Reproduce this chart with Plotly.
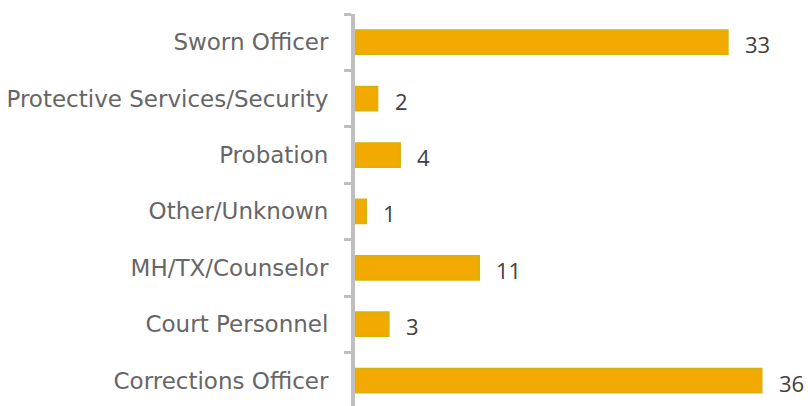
import plotly.graph_objects as go

# listed bottom to top, as the chart draws them
roles = [
    "Corrections Officer",
    "Court Personnel",
    "MH/TX/Counselor",
    "Other/Unknown",
    "Probation",
    "Protective Services/Security",
    "Sworn Officer",
]
counts = [36, 3, 11, 1, 4, 2, 33]

BAR_FILL = "#F2A900"
BAR_EDGE = "#D2B40C"
AXIS_GREY = "#BFBFBF"

fig = go.Figure(
    go.Bar(
        y=roles, x=counts, orientation="h",
        marker=dict(color=BAR_FILL, line=dict(color=BAR_EDGE, width=1.5)),
        width=0.43,
        hoverinfo="x+y",
    )
)

# value labels to the right of each bar
for r, c in zip(roles, counts):
    fig.add_annotation(
        x=c, y=r, text=str(c), showarrow=False,
        xanchor="left", xshift=15, yshift=-2,
        font=dict(family="Open Sans", size=22, color="#404040"),
    )

fig.update_layout(
    width=810, height=406,
    margin=dict(l=355, r=3, t=14, b=0),
    paper_bgcolor="white", plot_bgcolor="white",
    showlegend=False,
)
fig.update_xaxes(
    range=[0, 40], visible=False, showgrid=False, zeroline=False,
)
fig.update_yaxes(
    type="category", range=[-0.45, 6.5],
    showline=True, linecolor=AXIS_GREY, linewidth=4,
    ticks="outside", tickson="boundaries", ticklen=7, tickwidth=3, tickcolor=AXIS_GREY,
    ticklabelstandoff=18,
    tickfont=dict(family="DejaVu Sans", size=23, color="#666666"),
    showgrid=False, zeroline=False,
)

# drop the default body margin so the figure sits flush in the window
fig.write_html(
    "out.html",
    config={"displayModeBar": False},
    post_script="document.body.style.margin='0';document.body.style.overflow='hidden';",
)
